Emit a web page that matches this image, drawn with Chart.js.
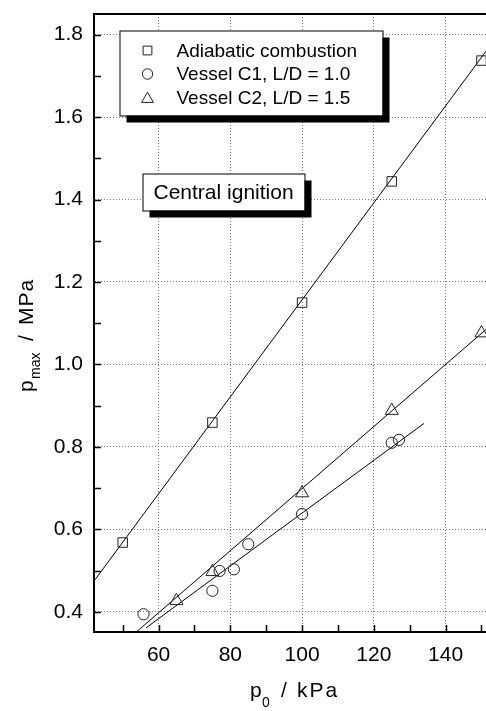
<!DOCTYPE html>
<html><head><meta charset="utf-8">
<script src="https://cdn.jsdelivr.net/npm/chart.js@4"></script>
<style>html,body{margin:0;padding:0;background:#fff;overflow:hidden}</style>
</head><body>
<canvas id="c" width="486" height="711"></canvas>
<script>
// ---- data ----
const adiabaticP0   = [50, 75, 100, 125, 150];
const adiabaticPmax = [0.568, 0.859, 1.150, 1.444, 1.737];
const c1P0   = [55.8, 75, 77, 81, 85, 100, 125, 127];
const c1Pmax = [0.394, 0.451, 0.499, 0.503, 0.564, 0.637, 0.810, 0.817];
const c2P0   = [65, 75, 100, 125, 150];
const c2Pmax = [0.427, 0.497, 0.688, 0.888, 1.076];
// fitted lines (end points)
const fitAdiabaticX = [42, 151.3];
const fitAdiabaticY = [0.4745, 1.760];
const fitC1X = [56.5, 134];
const fitC1Y = [0.361, 0.857];
const fitC2X = [53.8, 151.3];
const fitC2Y = [0.351, 1.085];
// axes
const xMajorTicks = [60, 80, 100, 120, 140];
const xMinorTicks = [50, 70, 90, 110, 130, 150];
const yMajorTicks = [0.4, 0.6, 0.8, 1.0, 1.2, 1.4, 1.6, 1.8];
const yMinorTicks = [0.5, 0.7, 0.9, 1.1, 1.3, 1.5, 1.7];
const legendLabels = ['Adiabatic combustion', 'Vessel C1, L/D = 1.0', 'Vessel C2, L/D = 1.5'];
const noteText = 'Central ignition';

const FONT = '"Liberation Sans", Arial, Helvetica, sans-serif';
Chart.defaults.font.family = FONT;
Chart.defaults.color = '#000';

const pts = (xs, ys) => xs.map((x, i) => ({x, y: ys[i]}));
const markerStyles = ['rect', 'circle', 'triangle'];
const markerRadius = [6.7, 5.6, 7.5];

function lineDs(xs, ys) {
  return {data: pts(xs, ys), showLine: true, pointRadius: 0, borderColor: '#000',
          borderWidth: 1, fill: false, order: 2};
}
function markDs(xs, ys, k) {
  return {data: pts(xs, ys), showLine: false, pointStyle: markerStyles[k], pointRadius: markerRadius[k],
          pointHoverRadius: markerRadius[k], pointBorderColor: '#222', pointBackgroundColor: 'rgba(0,0,0,0)',
          pointBorderWidth: 1, order: 1};
}
function zeroPad(s) {
  s.paddingTop = 0; s.paddingBottom = 0; s.paddingLeft = 0; s.paddingRight = 0;
}

const decorPlugin = {
  id: 'decor',
  beforeDatasetsDraw(chart) {
    const {ctx, chartArea: a, scales: {x, y}} = chart;
    ctx.save();
    ctx.strokeStyle = '#000';
    ctx.lineWidth = 1.5;
    ctx.beginPath();
    const tl = 7;
    [...xMajorTicks, ...xMinorTicks].forEach(v => {
      const px = Math.round(x.getPixelForValue(v)) + 0.5;
      ctx.moveTo(px, a.bottom); ctx.lineTo(px, a.bottom - tl);
    });
    [...yMajorTicks, ...yMinorTicks].forEach(v => {
      const py = Math.round(y.getPixelForValue(v)) + 0.5;
      ctx.moveTo(a.left, py); ctx.lineTo(a.left + tl, py);
    });
    ctx.stroke();
    ctx.lineWidth = 2;
    ctx.beginPath();
    ctx.moveTo(a.left - 1, a.top); ctx.lineTo(a.right, a.top);
    ctx.stroke();
    ctx.restore();
  },
  afterDraw(chart) {
    const {ctx, chartArea: a} = chart;
    ctx.save();
    function shadowBox(bx, by, bw, bh) {
      ctx.fillStyle = '#000';
      ctx.fillRect(bx + 7, by + 7, bw, bh);
      ctx.fillStyle = '#fff';
      ctx.fillRect(bx, by, bw, bh);
      ctx.strokeStyle = '#000';
      ctx.lineWidth = 1;
      ctx.strokeRect(bx + 0.5, by + 0.5, bw, bh);
    }
    // legend
    const lx = a.left + 25.5, ly = a.top + 16.5;
    shadowBox(lx, ly, 263, 85);
    ctx.font = '19px ' + FONT;
    ctx.textBaseline = 'middle';
    ctx.textAlign = 'left';
    const legR = [6.2, 5.2, 6.8];
    legendLabels.forEach((t, i) => {
      const ry = ly + 20 + i * 23.5;
      ctx.strokeStyle = '#222'; ctx.fillStyle = '#fff'; ctx.lineWidth = 1;
      Chart.helpers.drawPoint(ctx, {pointStyle: markerStyles[i], radius: legR[i], rotation: 0, borderWidth: 1},
        lx + 28, ry + (i === 2 ? 1.5 : 0));
      ctx.fillStyle = '#000';
      ctx.fillText(t, lx + 57, ry + 1);
    });
    // note box
    const nx = a.left + 48.5, ny = a.top + 159.5;
    shadowBox(nx, ny, 162, 37);
    ctx.font = '21px ' + FONT;
    ctx.fillStyle = '#000';
    ctx.fillText(noteText, nx + 11, ny + 19.5);

    // axis titles
    ctx.fillStyle = '#000';
    ctx.textBaseline = 'alphabetic';
    ctx.font = '21px ' + FONT;
    ctx.fillText('p', 250, 697);
    ctx.font = '14px ' + FONT;
    ctx.fillText('0', 262, 707);
    ctx.font = '21px ' + FONT;
    ctx.fillText('/', 281, 697);
    ctx.letterSpacing = '2px';
    ctx.fillText('kPa', 297, 697);
    ctx.letterSpacing = '0px';
    ctx.translate(33, 392);
    ctx.rotate(-Math.PI / 2);
    ctx.font = '21px ' + FONT;
    ctx.fillText('p', 0, 0);
    ctx.font = '14px ' + FONT;
    ctx.fillText('max', 13, 7);
    ctx.font = '21px ' + FONT;
    ctx.fillText('/', 51, 0);
    ctx.letterSpacing = '1px';
    ctx.fillText('MPa', 67, 0);
    ctx.restore();
  }
};

new Chart(document.getElementById('c'), {
  type: 'scatter',
  data: {
    datasets: [
      lineDs(fitAdiabaticX, fitAdiabaticY),
      lineDs(fitC1X, fitC1Y),
      lineDs(fitC2X, fitC2Y),
      markDs(adiabaticP0, adiabaticPmax, 0),
      markDs(c1P0, c1Pmax, 1),
      markDs(c2P0, c2Pmax, 2)
    ]
  },
  options: {
    responsive: false,
    animation: false,
    devicePixelRatio: 1,
    layout: {autoPadding: false, padding: {top: 14, left: 0, right: 0, bottom: 0}},
    plugins: {legend: {display: false}, tooltip: {enabled: false}},
    scales: {
      x: {
        type: 'linear', min: 42, max: 151.27,
        afterBuildTicks: s => { s.ticks = xMajorTicks.map(v => ({value: v})); },
        afterFit: s => { s.height = 79; zeroPad(s); },
        grid: {color: '#777', lineWidth: 1, drawTicks: false},
        border: {display: true, color: '#000', width: 2, dash: [1, 2]},
        ticks: {font: {size: 21}, padding: 11, color: '#000', maxRotation: 0,
                callback: v => String(v)}
      },
      y: {
        type: 'linear', min: 0.351, max: 1.850,
        afterBuildTicks: s => { s.ticks = yMajorTicks.map(v => ({value: v})); },
        afterFit: s => { s.width = 94; zeroPad(s); },
        grid: {color: '#777', lineWidth: 1, drawTicks: false},
        border: {display: true, color: '#000', width: 2, dash: [1, 2]},
        ticks: {font: {size: 21}, padding: 11, color: '#000', callback: v => Number(v).toFixed(1)}
      }
    }
  },
  plugins: [decorPlugin]
});
</script>
</body></html>
